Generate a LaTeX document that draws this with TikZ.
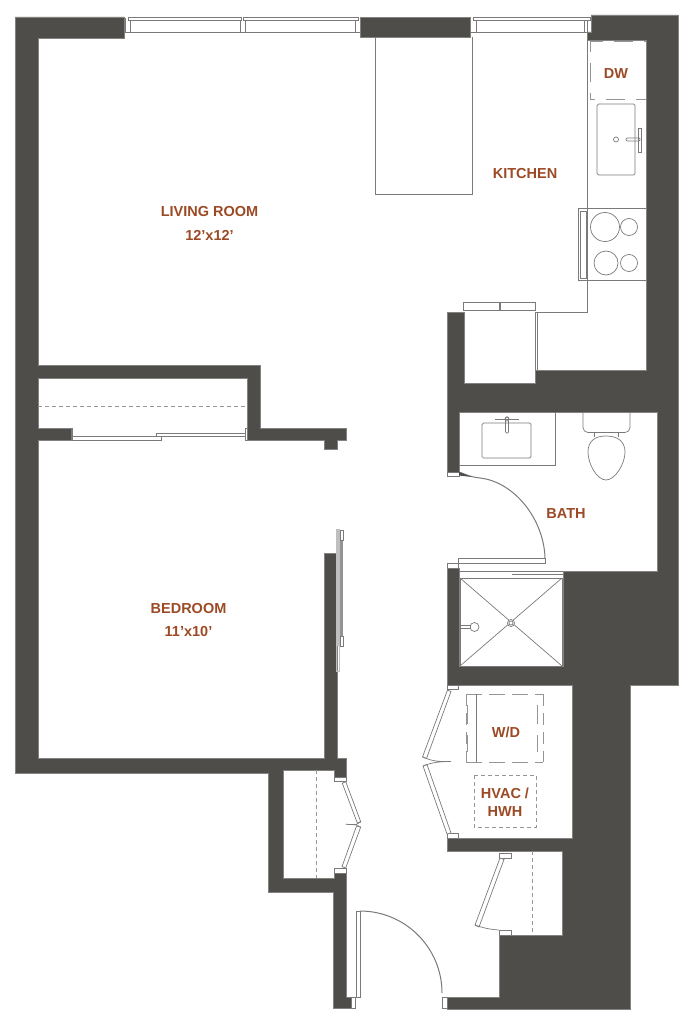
\documentclass[tikz,border=0pt]{standalone}
\usepackage{fontspec}
\setmainfont{Liberation Sans}
\definecolor{wallc}{HTML}{4F4D4A}
\definecolor{linec}{HTML}{7A7A7A}
\definecolor{lab}{HTML}{9C4A25}
\tikzset{
 wall/.style={fill=wallc,draw=wallc!70!white,line width=0.3pt},
 ln/.style={draw=linec,line width=1pt},
 thin/.style={draw=linec,line width=0.7pt},
 white box/.style={draw=linec,line width=0.7pt,fill=white},
 dashlong/.style={draw=linec!80!white,line width=0.9pt,dash pattern=on 19pt off 11pt},
 dashshort/.style={draw=linec!80!white,line width=0.8pt,dash pattern=on 4pt off 3pt},
 label/.style={text=lab,font=\bfseries\fontsize{14.5pt}{18pt}\selectfont,inner sep=0pt,align=center,anchor=center},
}
\begin{document}
\begin{tikzpicture}[x=1pt,y=-1pt]
\useasboundingbox (0,0) rectangle (693,1024);
% walls
\path[wall] (15,17)--(124,17)--(124,38)--(38,38)--(38,365)--(260,365)--(260,428)--(346,428)--(346,440)--(337,440)--(337,449)--(324,449)--(324,440)--(247,440)--(247,378)--(38,378)--(38,428)--(71,428)--(71,440)--(38,440)--(38,758)--(324,758)--(324,553)--(337,553)--(337,758)--(346,758)--(346,777)--(334,777)--(334,770)--(283,770)--(283,878)--(334,878)--(334,873)--(346,873)--(346,997)--(351,997)--(351,1008)--(333,1008)--(333,892)--(268,892)--(268,773)--(15,773)--cycle;
\path[wall] (447,312)--(464,312)--(464,383)--(535,383)--(535,370)--(646,370)--(646,40)--(587,40)--(587,32)--(591,32)--(591,15)--(678,15)--(678,685)--(630,685)--(630,1009)--(447,1009)--(447,997)--(499,997)--(499,935)--(562,935)--(562,851)--(447,851)--(447,838)--(572,838)--(572,685)--(447,685)--(447,568)--(459,568)--(459,666)--(563,666)--(563,571)--(657,571)--(657,412)--(459,412)--(459,472)--(447,472)--cycle;
\path[wall] (360,17) rectangle (470,37);
% windows
\foreach \a/\b/\c/\d in {128/241/130/240,243/358/245/355,473/590/476/584}{
 \draw[thin] (\a,17) rectangle (\b,20);
 \draw[thin] (\c,20) rectangle (\d,32);
}
\draw[thin] (124,32)--(130,32) (240,32)--(245,32) (355,32)--(360,32) (470,32)--(476,32) (584,32)--(587,32);
\draw[thin] (125,18)--(125,32) (587,20)--(587,32);
% kitchen
\draw[ln] (375,37)--(375,195)--(472,195)--(472,37);
\draw[ln] (587.5,32)--(587.5,312)--(535,312);
\draw[dashlong,dash phase=6pt] (590,41)--(646,41);
\draw[dashlong,dash phase=14pt] (590,99)--(646,99);
\draw[dashlong,dash phase=8pt] (590,41)--(590,99);
\draw[thin,rounded corners=1.5pt] (597,104) rectangle (635,175);
\draw[thin] (616,139.5) circle (2.5);
\draw[thin,rounded corners=1pt] (626,138)--(640,138)--(640,141)--(626,141)--cycle;
\draw[thin] (638.5,128) rectangle (641,152);
\draw[thin] (588,208)--(646,208) (588,280)--(646,280);
\draw[thin] (605,227) circle (14.5) (629,227) circle (8.5) (606,263) circle (12) (629,263) circle (8.5);
\draw[thin] (578,208) rectangle (587,280);
\draw[thin] (580,211) rectangle (586,278);
\draw[thin] (463.5,302) rectangle (499,310);
\draw[thin] (500,302) rectangle (535.5,310);
\draw[thin] (535,312)--(535,370) (537,312)--(537,370);
% bedroom closet
\draw[dashshort] (38,406)--(247,406);
\draw[white box] (71,428) rectangle (72.5,440);
\draw[white box] (245,428) rectangle (247,440);
\draw[white box] (156,433) rectangle (245,436.5);
\draw[white box] (72.5,436.5) rectangle (161,440);
% pocket door
\fill[gray!50] (336,529) rectangle (339.5,646);
\draw[thin,draw=gray!50] (336,646)--(336,671)--(339,671)--(339,646);
\fill[gray!85] (339.5,540) rectangle (343,636);
\draw[white box] (340,530) rectangle (343,540);
\draw[white box] (340,636) rectangle (343,646);
% bath
\draw[thin] (555,412)--(555,465)--(459,465);
\draw[thin,rounded corners=1.5pt] (482,423) rectangle (531,458);
\draw[thin,rounded corners=1pt] (505.5,417) rectangle (508.5,433);
\draw[thin] (495,419.5)--(519,419.5);
\draw[thin] (507,419) circle (2);
\draw[thin,rounded corners=5pt] (583,412)--(583,432.5)--(630,432.5)--(630,412);
\draw[thin] (594,432.5)--(594,437) (618,432.5)--(618,437);
\draw[thin] (606,436) .. controls (595,436) and (588,441) .. (588,452) .. controls (588,464) and (597,480) .. (606,480) .. controls (615,480) and (625,464) .. (625,452) .. controls (625,441) and (617,436) .. (606,436) -- cycle;
% bath door
\draw[white box] (447,472) rectangle (459,476);
\draw[white box] (447,563.5) rectangle (458,568);
\draw[white box] (458,558) rectangle (545,563);
\draw[ln] (545,558) .. controls (544,520) and (515,482) .. (480,478) .. controls (470,477) and (465,474) .. (459,472);
\fill[wallc] (459,472)--(472,477)--(459,475.5)--cycle;
% shower
\draw[thin] (459,571)--(563,571);
\draw[thin] (460,578)--(563,578);
\draw[thin,line width=0.9pt] (512,574)--(563,574);
\draw[thin] (460,578) rectangle (562,666);
\draw[thin] (460,578)--(562,666) (562,578)--(460,666);
\draw[thin,fill=white] (511,623) circle (3.5);
\draw[thin] (511,623) circle (2);
\draw[thin,fill=white] (474.5,627) circle (4.5);
\draw[thin,fill=white] (460,625.5) rectangle (470.5,628.5);
% laundry
\draw[white box] (447,685) rectangle (458,689.5);
\draw[white box] (447,833.5) rectangle (458,838);
\draw[white box] (447.5,690)--(451,691.5)--(426.5,758.5)--(422.5,757)--cycle;
\draw[white box] (423,766)--(427,764.5)--(451,833)--(447,834)--cycle;
\draw[thin] (423,757) .. controls (433,762) and (442,761.5) .. (451,761.5) .. controls (442,761.5) and (432,762) .. (423,766);
\draw[dashlong,dash pattern=on 16pt off 7pt] (466,694)--(543,694) (466,762)--(543,762);
\draw[dashlong,dash pattern=on 12pt off 7pt] (466,694)--(466,762) (543,694)--(543,762);
\draw[thin] (476.7,694)--(476.7,762);
\draw[dashlong] (467,705)--(467,752) (537,705)--(537,752);
\draw[dashshort] (474,775) rectangle (536,827);
% lower closet
\draw[dashshort] (532.7,851)--(532.7,935);
\draw[white box] (499,853) rectangle (511,858);
\draw[white box] (499,930) rectangle (511,935);
\draw[white box] (500,858)--(504,859.5)--(479,927)--(475,925)--cycle;
\draw[thin] (475,925) .. controls (483,928) and (491,929.5) .. (499,930);
% left closet
\draw[dashshort] (316.7,770)--(316.7,878);
\draw[white box] (334,777) rectangle (346,781.5);
\draw[white box] (334,868) rectangle (346,873);
\draw[white box] (342.3,783.3)--(345.7,781.7)--(360.7,821.7)--(357.3,823)--cycle;
\draw[white box] (360.7,827)--(356.5,826)--(342,866.7)--(345.7,868)--cycle;
\draw[thin] (360.7,822)--(356,824.5)--(345.7,824.3)--(356,824.8)--(360.7,827.3);
% entry door
\draw[white box] (351,997) rectangle (355,1008);
\draw[white box] (442,997) rectangle (447,1008);
\draw[thin] (346,997)--(360,997);
\draw[white box] (356,911) rectangle (360,997);
\draw[ln] (360,911) arc[start angle=-90,end angle=0,radius=82];
% labels
\node[label] (living) at (209.5,212) {LIVING ROOM};
\node[label] (livingsize) at (209.5,235) {12’x12’};
\node[label] (bedroom) at (188.5,609) {BEDROOM};
\node[label] (bedroomsize) at (188.5,632) {11’x10’};
\node[label] (kitchen) at (525,174) {KITCHEN};
\node[label] (dw) at (616,74) {DW};
\node[label] (bath) at (566,514) {BATH};
\node[label] (wd) at (506,732) {W/D};
\node[label] (hvac) at (505,802) {HVAC /\\HWH};
\end{tikzpicture}
\end{document}
